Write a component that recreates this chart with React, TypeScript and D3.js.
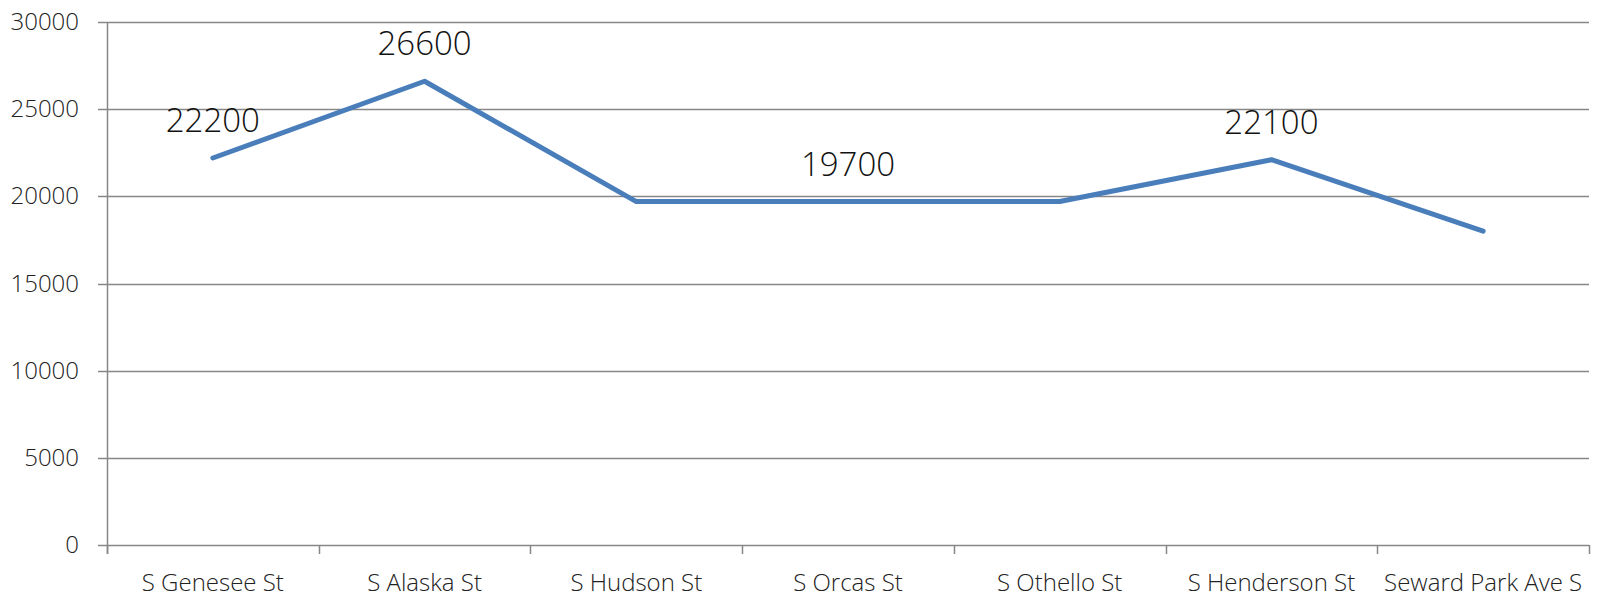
import { useEffect, useRef } from 'react';
import * as d3 from 'd3';

const streets = ['S Genesee St', 'S Alaska St', 'S Hudson St', 'S Orcas St', 'S Othello St', 'S Henderson St', 'Seward Park Ave S'];
const counts = [22200, 26600, 19700, 19700, 19700, 22100, 18000];
// only some points carry a label in the original
const labelled = [true, true, false, true, false, true, false];
const yTicks = [0, 5000, 10000, 15000, 20000, 25000, 30000];

const App = () => {
    const svgRef = useRef<SVGSVGElement>(null);
    const width = 1597;
    const height = 597;
    const margins = { top: 22, right: 8, bottom: 52, left: 107 };

    useEffect(() => {
        const svg = d3.select(svgRef.current);
        svg.selectAll('*').remove();

        const font = "'Open Sans', 'Segoe UI', sans-serif";
        const axisColor = '#878787';

        const x = d3.scaleBand()
            .domain(streets)
            .range([margins.left, width - margins.right]);

        const y = d3.scaleLinear()
            .domain([0, 30000])
            .range([height - margins.bottom, margins.top]);

        // gridlines
        svg.append('g')
            .selectAll('line')
            .data(yTicks)
            .join('line')
            .attr('x1', margins.left - 9)
            .attr('x2', width - margins.right)
            .attr('y1', d => Math.round(y(d)) + 0.5)
            .attr('y2', d => Math.round(y(d)) + 0.5)
            .attr('stroke', axisColor)
            .attr('stroke-width', 1.5);

        // y axis line
        svg.append('line')
            .attr('x1', margins.left + 0.5)
            .attr('x2', margins.left + 0.5)
            .attr('y1', y(30000))
            .attr('y2', y(0) + 9)
            .attr('stroke', axisColor)
            .attr('stroke-width', 1.5);

        // x tick marks at band edges
        const edges = streets.map(s => x(s) as number).concat([width - margins.right]);
        svg.append('g')
            .selectAll('line')
            .data(edges)
            .join('line')
            .attr('x1', d => Math.round(d) + 0.5)
            .attr('x2', d => Math.round(d) + 0.5)
            .attr('y1', y(0))
            .attr('y2', y(0) + 9)
            .attr('stroke', axisColor)
            .attr('stroke-width', 1.5);

        // y tick labels
        svg.append('g')
            .selectAll('text')
            .data(yTicks)
            .join('text')
            .attr('x', margins.left - 28)
            .attr('y', d => y(d) + 8)
            .attr('text-anchor', 'end')
            .attr('font-family', font)
            .attr('font-weight', 300)
            .attr('font-size', 24)
            .attr('fill', '#222')
            .text(d => d);

        // x labels
        svg.append('g')
            .selectAll('text')
            .data(streets)
            .join('text')
            .attr('x', d => (x(d) as number) + x.bandwidth() / 2)
            .attr('y', y(0) + 46)
            .attr('text-anchor', 'middle')
            .attr('font-family', font)
            .attr('font-weight', 300)
            .attr('font-size', 24)
            .attr('fill', '#222')
            .text(d => d);

        const pts = streets.map((s, i) => [(x(s) as number) + x.bandwidth() / 2, y(counts[i])] as [number, number]);

        svg.append('path')
            .attr('d', d3.line()(pts))
            .attr('fill', 'none')
            .attr('stroke', '#4a7ebb')
            .attr('stroke-width', 5)
            .attr('stroke-linejoin', 'round')
            .attr('stroke-linecap', 'round');

        const labelIdx = labelled.map((l, j) => l ? j : -1).filter(j => j >= 0);
        svg.append('g')
            .selectAll('text')
            .data(labelIdx)
            .join('text')
            .attr('x', i => pts[i][0])
            .attr('y', i => pts[i][1] - 26)
            .attr('text-anchor', 'middle')
            .attr('font-family', font)
            .attr('font-weight', 300)
            .attr('font-size', 33)
            .attr('fill', '#111')
            .text(i => counts[i]);
    }, []);

    return (
        <div>
            <svg ref={svgRef} width={width} height={height}
                style={{ position: 'absolute', left: 0, top: 0, background: '#fff' }}></svg>
        </div>
    );
};

export default App;
